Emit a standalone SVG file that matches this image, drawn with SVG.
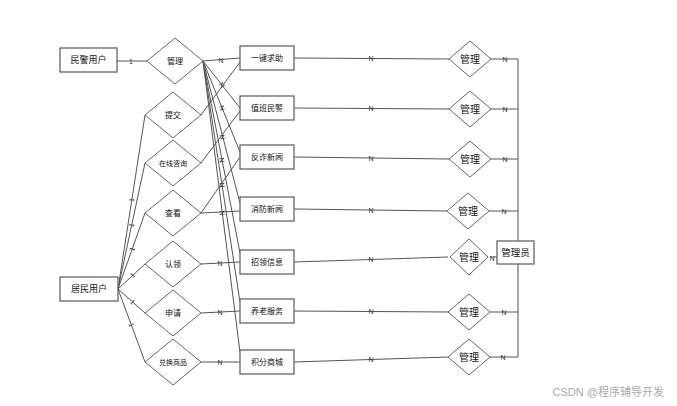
<svg xmlns="http://www.w3.org/2000/svg" width="677" height="406" viewBox="0 0 677 406">
<style>
.bg{fill:#fff}
.ent{fill:#fff;stroke:#666;stroke-width:1.3}
.rel{fill:#fff;stroke:#666;stroke-width:1}
.ln{stroke:#555;stroke-width:1;fill:none}
.t{font-family:"Liberation Sans","Noto Sans CJK SC",sans-serif;fill:#111;text-anchor:middle;dominant-baseline:central}
.lb{font-family:"Liberation Sans",sans-serif;font-size:7px;fill:#333;text-anchor:middle;dominant-baseline:central}
</style>
<rect class="bg" width="677" height="406"/>
<g id="connectors">
<line class="ln" x1="117" y1="61" x2="147" y2="61"/>
<line class="ln" x1="118" y1="289" x2="145" y2="115"/>
<line class="ln" x1="118" y1="289" x2="145" y2="163"/>
<line class="ln" x1="118" y1="289" x2="145" y2="213"/>
<line class="ln" x1="118" y1="289" x2="145" y2="264"/>
<line class="ln" x1="118" y1="289" x2="145" y2="313"/>
<line class="ln" x1="118" y1="289" x2="145" y2="362"/>
<line class="ln" x1="203" y1="61" x2="240" y2="58"/>
<line class="ln" x1="203" y1="61" x2="240" y2="108"/>
<line class="ln" x1="203" y1="61" x2="240" y2="152"/>
<line class="ln" x1="203" y1="61" x2="240" y2="203"/>
<line class="ln" x1="203" y1="61" x2="240" y2="253"/>
<line class="ln" x1="203" y1="61" x2="240" y2="302"/>
<line class="ln" x1="203" y1="61" x2="240" y2="352"/>
<line class="ln" x1="201" y1="115" x2="240" y2="62"/>
<line class="ln" x1="201" y1="163" x2="240" y2="111"/>
<line class="ln" x1="201" y1="213" x2="240" y2="157"/>
<line class="ln" x1="201" y1="213" x2="240" y2="211"/>
<line class="ln" x1="201" y1="264" x2="240" y2="262"/>
<line class="ln" x1="201" y1="313" x2="240" y2="311"/>
<line class="ln" x1="201" y1="362" x2="240" y2="362"/>
<line class="ln" x1="294" y1="58" x2="449" y2="59"/>
<line class="ln" x1="294" y1="108" x2="449" y2="109"/>
<line class="ln" x1="294" y1="157" x2="449" y2="159"/>
<line class="ln" x1="294" y1="209" x2="447" y2="211"/>
<line class="ln" x1="294" y1="262" x2="448" y2="257"/>
<line class="ln" x1="294" y1="311" x2="448" y2="312"/>
<line class="ln" x1="294" y1="362" x2="448" y2="357"/>
<line class="ln" x1="491" y1="59" x2="518" y2="59"/>
<line class="ln" x1="491" y1="109" x2="518" y2="109"/>
<line class="ln" x1="491" y1="159" x2="518" y2="159"/>
<line class="ln" x1="489" y1="211" x2="518" y2="211"/>
<line class="ln" x1="490" y1="257" x2="497" y2="257"/>
<line class="ln" x1="490" y1="312" x2="518" y2="312"/>
<line class="ln" x1="490" y1="357" x2="518" y2="357"/>
<line class="ln" x1="518" y1="59" x2="518" y2="357" style="stroke:#777;stroke-width:1.3"/>
<text class="lb" x="131" y="61">1</text>
<text class="lb" transform="translate(131.5,200) rotate(-81)">1</text>
<text class="lb" transform="translate(131.5,225) rotate(-78)">1</text>
<text class="lb" transform="translate(132,249) rotate(-70)">1</text>
<text class="lb" transform="translate(132.5,275) rotate(-43)">1</text>
<text class="lb" transform="translate(132.5,302) rotate(42)">1</text>
<text class="lb" transform="translate(131.5,325) rotate(70)">1</text>
<text class="lb" x="221" y="60.5">N</text>
<text class="lb" transform="translate(222,85) rotate(52)">N</text>
<text class="lb" transform="translate(222,108) rotate(68)">N</text>
<text class="lb" transform="translate(222.5,137) rotate(75)">N</text>
<text class="lb" transform="translate(222,160) rotate(79)">N</text>
<text class="lb" transform="translate(222,185) rotate(81)">N</text>
<text class="lb" transform="translate(222.3,213) rotate(83)">N</text>
<text class="lb" x="220" y="263">N</text>
<text class="lb" x="220" y="312">N</text>
<text class="lb" x="220" y="362">N</text>
<text class="lb" x="371" y="58.5">N</text>
<text class="lb" x="371" y="108.5">N</text>
<text class="lb" x="371" y="158">N</text>
<text class="lb" x="371" y="210">N</text>
<text class="lb" x="371" y="259.5">N</text>
<text class="lb" x="371" y="311.5">N</text>
<text class="lb" x="371" y="359.5">N</text>
<text class="lb" x="505" y="59">N</text>
<text class="lb" x="505" y="109">N</text>
<text class="lb" x="505" y="159">N</text>
<text class="lb" x="504" y="211">N</text>
<text class="lb" x="492" y="258">N</text>
<text class="lb" x="504" y="312">N</text>
<text class="lb" x="503" y="357">N</text>
</g>
<g id="minjing"><rect class="ent" x="60" y="48" width="57" height="24"/><text class="t" x="88.5" y="60" font-size="9">民警用户</text></g>
<g id="jumin"><rect class="ent" x="60" y="277" width="58" height="24"/><text class="t" x="89" y="289" font-size="9">居民用户</text></g>
<g id="r-guanli"><polygon class="rel" points="147,61 175,38 203,61 175,84"/><text class="t" x="175" y="61" font-size="8">管理</text></g>
<g id="r-tijiao"><polygon class="rel" points="145,115 173,92 201,115 173,138"/><text class="t" x="173" y="115" font-size="8">提交</text></g>
<g id="r-zixun"><polygon class="rel" points="145,163 173,140 201,163 173,186"/><text class="t" x="173" y="163" font-size="7">在线咨询</text></g>
<g id="r-chakan"><polygon class="rel" points="145,213 173,190 201,213 173,236"/><text class="t" x="173" y="213" font-size="8">查看</text></g>
<g id="r-renling"><polygon class="rel" points="145,264 173,241 201,264 173,287"/><text class="t" x="173" y="264" font-size="8">认领</text></g>
<g id="r-shenqing"><polygon class="rel" points="145,313 173,290 201,313 173,336"/><text class="t" x="173" y="313" font-size="8">申请</text></g>
<g id="r-duihuan"><polygon class="rel" points="145,362 173,339 201,362 173,385"/><text class="t" x="173" y="362" font-size="7">兑换商品</text></g>
<g id="e-qiuzhu"><rect class="ent" x="240" y="46" width="54" height="24"/><text class="t" x="267" y="58" font-size="8">一键求助</text></g>
<g id="e-zhiban"><rect class="ent" x="240" y="96" width="54" height="24"/><text class="t" x="267" y="108" font-size="8">值班民警</text></g>
<g id="e-fanzha"><rect class="ent" x="240" y="145" width="54" height="24"/><text class="t" x="267" y="157" font-size="8">反诈新闻</text></g>
<g id="e-xiaofang"><rect class="ent" x="240" y="197" width="54" height="24"/><text class="t" x="267" y="209" font-size="8">消防新闻</text></g>
<g id="e-zhaoling"><rect class="ent" x="240" y="250" width="54" height="24"/><text class="t" x="267" y="262" font-size="8">招领信息</text></g>
<g id="e-yanglao"><rect class="ent" x="240" y="299" width="54" height="24"/><text class="t" x="267" y="311" font-size="8">养老服务</text></g>
<g id="e-jifen"><rect class="ent" x="240" y="350" width="54" height="24"/><text class="t" x="267" y="362" font-size="8">积分商城</text></g>
<g id="m1"><polygon class="rel" points="449,59 470,41 491,59 470,77"/><text class="t" x="470" y="59" font-size="10">管理</text></g>
<g id="m2"><polygon class="rel" points="449,109 470,91 491,109 470,127"/><text class="t" x="470" y="109" font-size="10">管理</text></g>
<g id="m3"><polygon class="rel" points="449,159 470,141 491,159 470,177"/><text class="t" x="470" y="159" font-size="10">管理</text></g>
<g id="m4"><polygon class="rel" points="447,211 468,193 489,211 468,229"/><text class="t" x="468" y="211" font-size="10">管理</text></g>
<g id="m5"><polygon class="rel" points="450,257 469,239 488,257 469,275"/><text class="t" x="469" y="257" font-size="10">管理</text></g>
<g id="m6"><polygon class="rel" points="448,312 469,294 490,312 469,330"/><text class="t" x="469" y="312" font-size="10">管理</text></g>
<g id="m7"><polygon class="rel" points="448,357 469,339 490,357 469,375"/><text class="t" x="469" y="357" font-size="10">管理</text></g>
<g id="admin"><rect class="ent" x="497" y="241" width="37" height="23"/><text class="t" x="515.5" y="252.5" font-size="9.5">管理员</text></g>
<text x="664" y="392" font-family="Liberation Sans,Noto Sans CJK SC,sans-serif" font-size="11" fill="#aaa" text-anchor="end" dominant-baseline="central">CSDN @程序辅导开发</text>
</svg>
